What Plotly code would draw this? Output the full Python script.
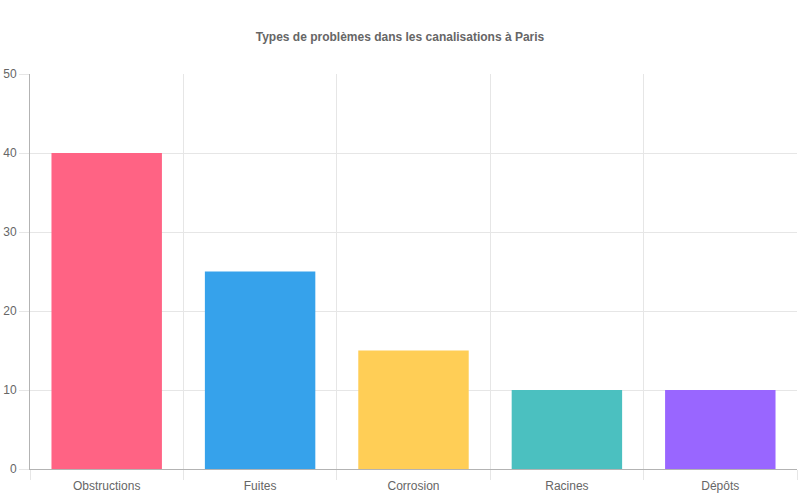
import plotly.graph_objects as go

# data
categories = ["Obstructions", "Fuites", "Corrosion", "Racines", "Dépôts"]
counts = [40, 25, 15, 10, 10]
bar_colors = ["#ff6384", "#36a2eb", "#ffce56", "#4bc0c0", "#9966ff"]

grid_color = "#e6e6e6"
axis_color = "#b3b3b3"
text_color = "#666666"

fig = go.Figure()
fig.add_trace(go.Bar(
    x=categories,
    y=counts,
    marker=dict(color=bar_colors, line=dict(width=0)),
    showlegend=False,
    hoverinfo="skip"
))

fig.update_layout(
    width=800, height=500,
    paper_bgcolor="white",
    plot_bgcolor="white",
    font=dict(family="Liberation Sans, Arial, sans-serif", size=12, color=text_color),
    title=dict(
        text="<b>Types de problèmes dans les canalisations à Paris</b>",
        x=0.5, xanchor="center",
        y=1 - 37 / 500, yanchor="middle",
        font=dict(size=12, color=text_color)
    ),
    margin=dict(l=30, r=3, t=74, b=31),
    bargap=0.28,
    xaxis=dict(
        type="category",
        tickson="boundaries",
        showgrid=True,
        gridcolor=grid_color,
        ticks="outside",
        ticklen=10,
        tickcolor=grid_color,
        ticklabelstandoff=6,
        showline=True,
        linecolor=axis_color,
        linewidth=1,
        tickfont=dict(size=12, color=text_color),
    ),
    yaxis=dict(
        range=[0, 50],
        dtick=10,
        showgrid=True,
        gridcolor=grid_color,
        zeroline=False,
        ticks="outside",
        ticklen=10,
        tickcolor=grid_color,
        showline=True,
        linecolor=axis_color,
        linewidth=1,
        tickfont=dict(size=12, color=text_color),
    ),
)

# page body has a default 8px margin, drop it so the chart sits at 0,0
fig.write_html(
    "out.html",
    config={"displayModeBar": False},
    post_script="document.body.style.margin='0';document.body.style.overflow='hidden';"
)
